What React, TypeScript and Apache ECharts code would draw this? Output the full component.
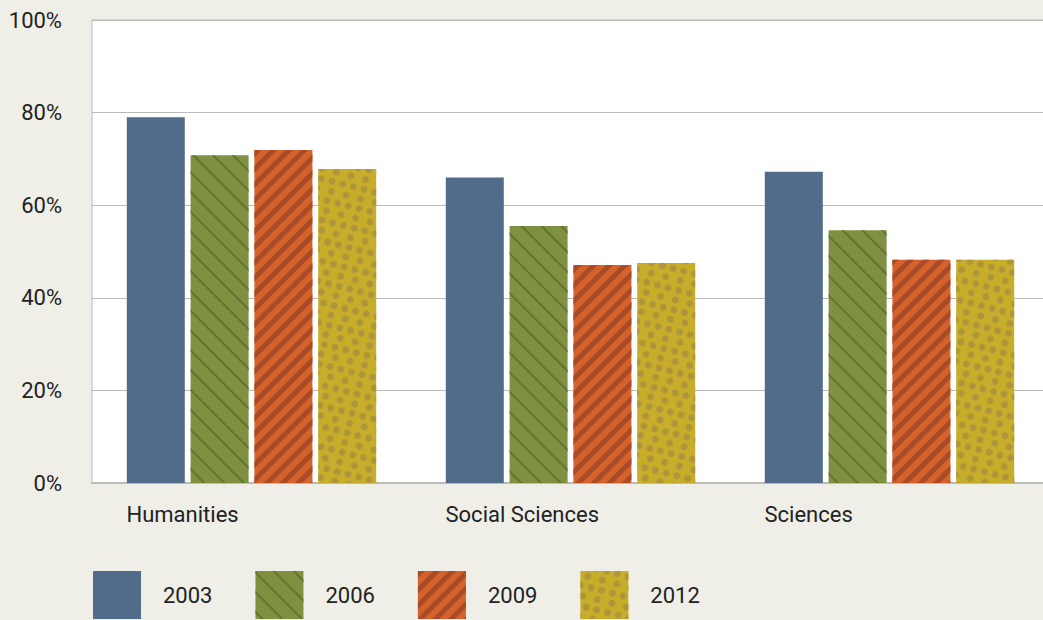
import React, { useEffect, useRef } from "react";
import * as echarts from "echarts";

const categories = ["Humanities", "Social Sciences", "Sciences"];
const seriesNames = ["2003", "2006", "2009", "2012"];
const values2003 = [79, 66, 67.2];
const values2006 = [70.8, 55.5, 54.6];
const values2009 = [71.9, 47.1, 48.2];
const values2012 = [67.8, 47.5, 48.2];
const yTicks = [0, 20, 40, 60, 80, 100];

const FONT = "Roboto, 'Liberation Sans', sans-serif";

export default function App() {
  const ref = useRef<HTMLDivElement>(null);
  useEffect(() => {
    if (!ref.current) return;
    const chart = echarts.init(ref.current, undefined, { renderer: "svg" });
    const allValues = [values2003, values2006, values2009, values2012];
    const styles = [
      { color: "#516b8a", decal: { symbol: "none" } },
      {
        color: "#7f9141",
        decal: {
          symbol: "rect",
          color: "#5f7530",
          dashArrayX: [1, 0],
          dashArrayY: [2, 12],
          rotation: Math.PI / 4,
          symbolSize: 1,
        },
      },
      {
        color: "#d4622a",
        decal: {
          symbol: "rect",
          color: "#a94b26",
          dashArrayX: [1, 0],
          dashArrayY: [5, 6],
          rotation: -Math.PI / 4,
          symbolSize: 1,
        },
      },
      {
        color: "#c8ad2a",
        decal: {
          symbol: "circle",
          color: "#ad963a",
          dashArrayX: [[7, 4], [0, 5, 7, 3]],
          dashArrayY: [7, 3],
          rotation: 0.25,
          symbolSize: 1,
        },
      },
    ];
    chart.setOption({
      animation: false,
      backgroundColor: "#efeee7",
      aria: { enabled: true, decal: { show: true } },
      textStyle: { fontFamily: FONT },
      grid: {
        left: 92,
        right: 0,
        top: 20,
        bottom: 137,
        show: true,
        backgroundColor: "#ffffff",
        borderColor: "#bbbbbb",
        borderWidth: 1,
      },
      legend: {
        left: 93,
        top: 571,
        padding: 0,
        itemWidth: 48,
        itemHeight: 48,
        itemGap: 43,
        icon: "rect",
        data: seriesNames,
        textStyle: {
          fontFamily: FONT,
          fontSize: 22,
          color: "#222222",
          padding: [0, 0, 0, 17],
        },
      },
      xAxis: {
        type: "category",
        data: categories,
        axisLine: { show: true, lineStyle: { color: "#bbbbbb", width: 2 } },
        axisTick: { show: false },
        axisLabel: {
          fontFamily: FONT,
          fontSize: 22,
          color: "#222222",
          align: "left",
          margin: 20,
          padding: [0, 0, 0, -125],
        },
      },
      yAxis: {
        type: "value",
        min: 0,
        max: 100,
        interval: 20,
        axisLine: { show: false },
        axisTick: { show: false },
        splitLine: { lineStyle: { color: "#bbbbbb", width: 1 } },
        axisLabel: {
          fontFamily: FONT,
          fontSize: 22,
          color: "#222222",
          margin: 30,
          formatter: (v: number) => (yTicks.includes(v) ? v + "%" : ""),
        },
      },
      series: seriesNames.map((name, i) => ({
        name,
        type: "bar",
        data: allValues[i],
        barWidth: 58,
        barGap: "10%",
        itemStyle: { color: styles[i].color, decal: styles[i].decal },
      })),
    });
    return () => chart.dispose();
  }, []);
  return (
    <div
      ref={ref}
      style={{ position: "fixed", left: 0, top: 0, width: 1049, height: 620 }}
    />
  );
}
